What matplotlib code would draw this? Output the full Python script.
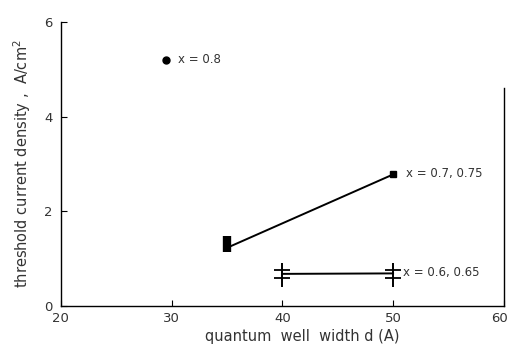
import matplotlib.pyplot as plt
import matplotlib.transforms as mtransforms

# data
d_08 = [29.5]
j_08 = [5.2]

d_07 = [35, 35, 50]
j_07 = [1.14, 1.48, 2.78]

d_06 = [40, 40, 50, 50]
j_06 = [0.60, 0.76, 0.60, 0.76]
d_06_line = [40, 50]
j_06_line = [0.68, 0.69]

xticks = [20, 30, 40, 50, 60]
yticks = [0, 2, 4, 6]

plt.rcParams['font.family'] = 'DejaVu Sans'
txt_col = '#333333'

fig = plt.figure(figsize=(5.11, 3.49), dpi=100)
ax = fig.add_axes([0.119, 0.123, 0.867, 0.814])

# x = 0.8
ax.plot(d_08, j_08, 'o', color='black', markersize=5)
ax.text(30.6, 5.2, 'x = 0.8', va='center', fontsize=8.5, color=txt_col)

# x = 0.7, 0.75
ax.plot([35, d_07[2]], [1.23, j_07[2]], '-', color='black', lw=1.4)
ax.plot(d_07[:2], j_07[:2], '-', color='black', lw=6, solid_capstyle='butt')
ax.plot(d_07[2:], j_07[2:], 's', color='black', markersize=5)
ax.text(51.2, 2.8, 'x = 0.7, 0.75', va='center', fontsize=8.5, color=txt_col)

# x = 0.6, 0.65
ax.plot(d_06_line, j_06_line, '-', color='black', lw=1.4)
ax.plot(d_06, j_06, '_', color='black', markersize=11, mew=1.3)
ax.plot(d_06_line, [0.665, 0.665], '|', color='black', markersize=17, mew=1.4)
ax.text(50.9, 0.7, 'x = 0.6, 0.65', va='center', fontsize=8.5, color=txt_col)

ax.set_xlim(20, 60)
ax.set_ylim(0, 6)
ax.set_xticks(xticks)
ax.set_yticks(yticks)
ax.tick_params(direction='in', length=4, labelsize=9.5, labelcolor=txt_col)
ax.tick_params(axis='x', pad=4)
ax.tick_params(axis='y', pad=6)
ax.spines['top'].set_visible(False)
ax.spines['right'].set_bounds(0, 4.6)
for s in ax.spines.values():
    s.set_linewidth(1.0)

# last tick label sits right on the edge, nudge it in
last = ax.get_xticklabels()[-1]
last.set_transform(last.get_transform() + mtransforms.ScaledTranslation(-4 / 100, 0, fig.dpi_scale_trans))

ax.set_xlabel('quantum  well  width d (A)', fontsize=10.5, color=txt_col, labelpad=3)
ax.xaxis.set_label_coords(0.545, -0.08)
ax.set_ylabel('threshold current density ,  A/cm$^2$', fontsize=10.5, color=txt_col, labelpad=8)

fig.savefig('out.png', dpi=100)
